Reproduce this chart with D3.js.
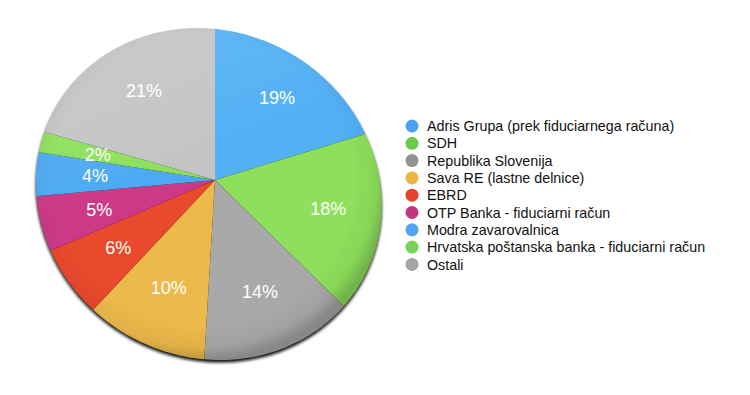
<!DOCTYPE html>
<head>
  <meta charset="utf-8">
  <script src="https://d3js.org/d3.v7.min.js"></script>
  <style>
    body { margin:0; background:#fff; }
    text { font-family: "Liberation Sans", Arial, sans-serif; }
  </style>
</head>
<body>
<div id="figure"></div>
<script>
  var names = ["Adris Grupa (prek fiduciarnega računa)", "SDH", "Republika Slovenija",
    "Sava RE (lastne delnice)", "EBRD", "OTP Banka - fiduciarni račun",
    "Modra zavarovalnica", "Hrvatska poštanska banka - fiduciarni račun", "Ostali"];
  var shares = [19.0, 18.0, 13.7, 10.2, 6.2, 5.0, 4.1, 2.0, 21.4];
  var sliceColors = ["#52b0f5", "#8ee05c", "#a9a9a9", "#edb94a", "#e9492c", "#cc3a87", "#4daaf2", "#8ee05c", "#c4c4c4"];
  var dotColors = ["#4f9ff0", "#6cc94c", "#929292", "#edb443", "#e3432a", "#c2357f", "#4fa6f2", "#79d058", "#a6a6a6"];

  var width = 750, height = 395;
  var svg = d3.select("#figure").append("svg")
    .attr("width", width).attr("height", height);

  // tilted disc: unit circle -> screen, a simple perspective fit
  var cx = 215, cy = 180;
  var A = 172, C = 11.5, D = 164.2, g = 0.036, h = -0.0876;
  function proj(a, r) {
    var X = Math.sin(a) * r, Y = -Math.cos(a) * r;
    var w = 1 + g * X + h * Y;
    return [cx + A * X / w, cy + (C * X + D * Y) / w];
  }
  function rim(a0, a1, r) {
    var n = Math.max(2, Math.ceil((a1 - a0) / 0.02)), pts = [];
    for (var i = 0; i <= n; i++) pts.push(proj(a0 + (a1 - a0) * i / n, r));
    return pts;
  }
  var line = d3.line().curve(d3.curveLinearClosed);

  var defs = svg.append("defs");
  var blur = defs.append("filter").attr("id", "blur").attr("x", "-10%").attr("y", "-10%")
    .attr("width", "120%").attr("height", "130%");
  blur.append("feGaussianBlur").attr("stdDeviation", 1.4);

  var rg = defs.append("radialGradient").attr("id", "rimShade")
    .attr("cx", "48%").attr("cy", "46%").attr("r", "54%");
  rg.append("stop").attr("offset", "80%").attr("stop-color", "#000").attr("stop-opacity", 0);
  rg.append("stop").attr("offset", "93%").attr("stop-color", "#000").attr("stop-opacity", 0.05);
  rg.append("stop").attr("offset", "100%").attr("stop-color", "#000").attr("stop-opacity", 0.2);

  var lg = defs.append("linearGradient").attr("id", "topLight")
    .attr("x1", "0").attr("y1", "0").attr("x2", "0.4").attr("y2", "1");
  lg.append("stop").attr("offset", "0%").attr("stop-color", "#fff").attr("stop-opacity", 0.14);
  lg.append("stop").attr("offset", "50%").attr("stop-color", "#fff").attr("stop-opacity", 0);

  var full = rim(0, 2 * Math.PI, 1);

  // disc thickness / shadow under the rim
  svg.append("path")
    .attr("d", line(full.map(function(p) { return [p[0], p[1] + 2.5]; })))
    .attr("fill", "#111").attr("filter", "url(#blur)");

  var pie = d3.pie().sort(null).value(function(d) { return d; });
  var arcs = pie(shares);

  svg.selectAll(".slice").data(arcs).enter().append("path")
    .attr("class", "slice")
    .attr("d", function(d) { return line([[cx, cy]].concat(rim(d.startAngle, d.endAngle, 1))); })
    .attr("fill", function(d, i) { return sliceColors[i]; });

  svg.append("path").attr("d", line(full)).attr("fill", "url(#topLight)");
  svg.append("path").attr("d", line(full)).attr("fill", "url(#rimShade)");

  svg.selectAll(".lbl").data(arcs).enter().append("text")
    .attr("class", "lbl")
    .attr("x", function(d) { return proj((d.startAngle + d.endAngle) / 2, 0.68)[0]; })
    .attr("y", function(d) { return proj((d.startAngle + d.endAngle) / 2, 0.68)[1]; })
    .attr("dy", "0.36em")
    .attr("text-anchor", "middle")
    .attr("fill", "#fff")
    .style("font-size", "18px")
    .text(function(d) { return Math.round(d.value) + "%"; });

  var legend = svg.selectAll(".legend").data(names).enter().append("g")
    .attr("class", "legend")
    .attr("transform", function(d, i) { return "translate(412," + (126 + i * 17.3) + ")"; });
  legend.append("circle").attr("r", 6.5)
    .attr("fill", function(d, i) { return dotColors[i]; });
  legend.append("text").attr("x", 15).attr("dy", "0.36em")
    .style("font-size", "14.3px").attr("fill", "#111")
    .text(function(d) { return d; });
</script>
</body>
